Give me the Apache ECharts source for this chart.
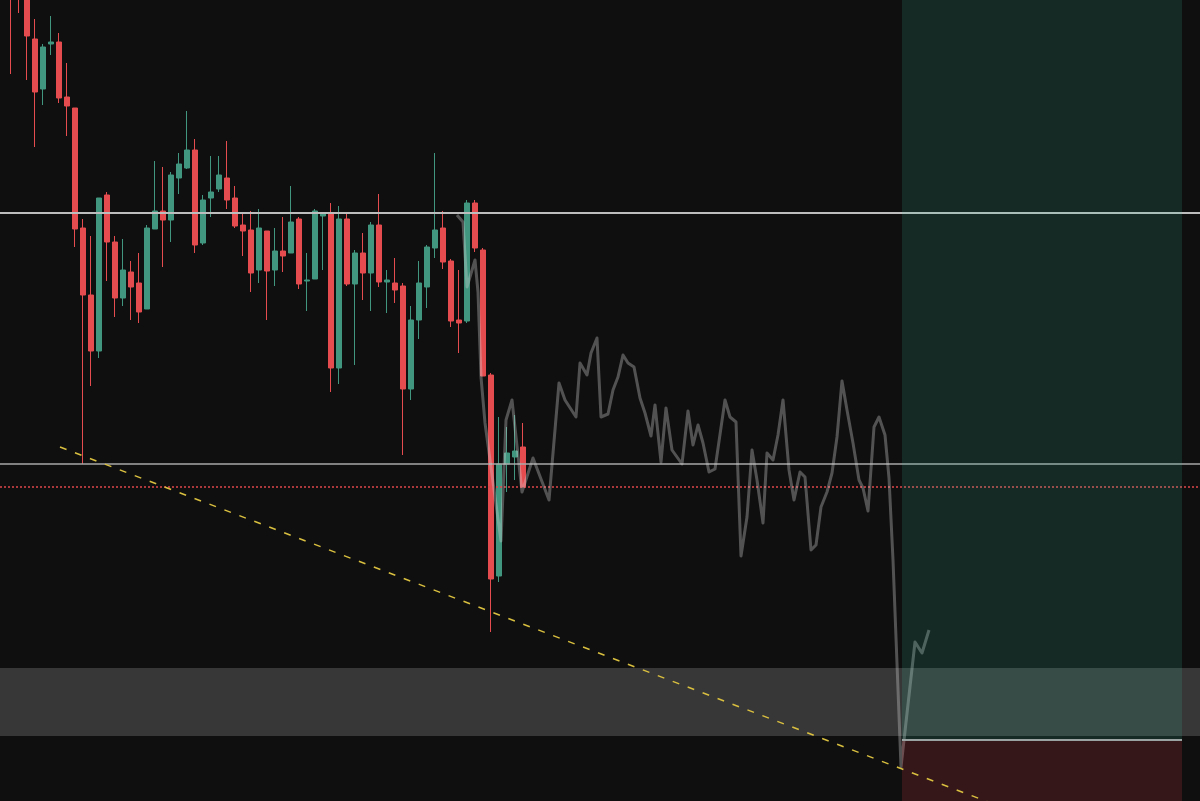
<!DOCTYPE html>
<html><head><meta charset="utf-8">
<script src="https://cdn.jsdelivr.net/npm/echarts@6/dist/echarts.min.js"></script>
<style>html,body{margin:0;padding:0;background:#0f0f0f;overflow:hidden}#c{width:1200px;height:801px}</style>
</head><body><div id="c"></div>
<script>
// Candles (bar 1..65): open, close, low, high
const opens  = [840,860,815,761,711,756,758,703,692,572,505,449,605,558,502,528,517,491,571,589,580,622,632,650,557,602,611,622,602,575,570,530,569,530,549,547,581,519,521,584,586,432,581,516,547,527,575,518,517,514,411,480,513,552,572,539,480,479,597,550,425,224,336,343,353];
const closes = [805,820,764,708,753,758,702,694,571,505,449,602,558,502,530,513,488,572,589,580,625,636,650,555,600,608,625,600,574,569,527,572,529,549,544,578,516,520,589,586,432,581,516,547,527,575,518,520,510,411,480,517,553,570,538,479,477,597,552,424,221,336,347,349,313];
const lows   = [726,787,720,653,695,745,697,664,553,336,414,442,519,483,494,480,477,491,571,533,558,606,631,547,555,583,608,591,572,544,508,517,480,514,528,547,511,489,521,530,408,416,514,435,500,489,513,487,497,345,400,461,492,542,531,473,447,477,548,424,168,218,308,320,313];
const highs  = [850,870,825,781,756,784,767,737,692,581,564,602,608,564,561,539,547,575,639,633,628,647,689,661,605,644,644,659,614,586,589,591,569,572,583,614,583,547,591,586,597,594,586,550,567,578,606,530,542,517,494,539,555,647,589,541,530,600,600,552,427,383,373,385,377];

// Projected path (bar position, price)
const projX = [56.75,57.5,58,59,59.375,59.75,60.25,62.25,62.875,63.625,64.875,66.25,68.25,69.5,70.25,71.625,72.125,73,73.5,74.25,74.75,75.625,76.25,76.875,77.5,78.125,78.875,79.625,80.25,81,81.5,82.25,82.875,83.625,84.875,85.625,86.25,86.875,87.5,88.25,89,90.25,90.875,91.625,92.25,93,93.625,94.25,95,95.5,96.25,96.875,97.5,98.25,98.875,99.625,100.25,101,101.625,102.25,103,103.625,104.25,104.875,105.5,106.25,107,107.5,108.125,108.875,109.5,110.25,110.75,111.25,112.25,114,114.875,115.75];
const projY = [585,578,513,540,508,423,377,259,380,400,308,342,300,417,400,383,437,425,447,462,383,386,410,423,445,437,433,402,387,364,395,338,392,350,336,389,355,375,357,328,331,400,383,378,244,283,350,320,277,347,340,365,400,330,300,328,323,250,255,293,308,327,363,419,390,357,320,312,289,373,383,365,322,240,33,158,147,170];

// Levels
const resistanceLevel = 587;
const supportLevel = 336;
const triggerLevel = 313;
const bandLow = 64, bandHigh = 132;
const zoneStart = 112.375, zoneEnd = 147.375;
const zoneEntry = 60, zoneTarget = 800, zoneStop = -1;
const trendX = [7.125, 149.625];
const trendY = [353, -83];

const chart = echarts.init(document.getElementById('c'), null, {renderer: 'canvas'});
chart.setOption({
  backgroundColor: '#0f0f0f',
  animation: false,
  grid: {left: 0, right: 0, top: 0, bottom: 0},
  xAxis: {type: 'value', min: -0.375, max: 149.625, show: false, splitLine: {show: false}},
  yAxis: {type: 'value', min: -1, max: 800, show: false, splitLine: {show: false}},
  series: [
    {
      type: 'line', data: [], silent: true,
      markArea: {z: 1, silent: true, itemStyle: {color: 'rgba(255,255,255,0.17)'},
        data: [[{yAxis: bandLow}, {yAxis: bandHigh}]]}
    },
    {
      type: 'candlestick', z: 2, barWidth: 6, clip: true,
      data: opens.map((o, k) => [k + 1, o, closes[k], lows[k], highs[k]]),
      encode: {x: 0, y: [1, 2, 3, 4]},
      itemStyle: {color: '#40967e', color0: '#e54c50', borderColor: '#40967e', borderColor0: '#e54c50', borderWidth: 1}
    },
    {
      type: 'line', data: [], silent: true,
      markLine: {z: 3, silent: true, symbol: ['none', 'none'], label: {show: false},
        data: [
          {yAxis: resistanceLevel, lineStyle: {color: '#bdbdbd', width: 2, type: 'solid'}},
          {yAxis: supportLevel, lineStyle: {color: '#a8a8a8', width: 1.5, type: 'solid'}},
          {yAxis: triggerLevel, lineStyle: {color: '#e0484c', width: 1.5, type: [2, 2]}}
        ]}
    },
    {
      type: 'line', z: 4, showSymbol: false, silent: true, clip: true,
      data: projX.map((x, k) => [x, projY[k]]),
      lineStyle: {color: 'rgba(210,210,210,0.35)', width: 3, join: 'round'}
    },
    {
      type: 'line', data: [], silent: true,
      markArea: {z: 5, silent: true,
        data: [
          [{xAxis: zoneStart, yAxis: zoneEntry, itemStyle: {color: 'rgba(60,200,170,0.15)'}}, {xAxis: zoneEnd, yAxis: zoneTarget}],
          [{xAxis: zoneStart, yAxis: zoneStop, itemStyle: {color: 'rgba(230,60,70,0.18)'}}, {xAxis: zoneEnd, yAxis: zoneEntry}]
        ]},
      markLine: {z: 6, silent: true, symbol: ['none', 'none'], label: {show: false},
        data: [[{coord: [zoneStart, zoneEntry], lineStyle: {color: '#9aa3a1', width: 2, type: 'solid'}}, {coord: [zoneEnd, zoneEntry]}]]}
    },
    {
      type: 'line', z: 7, showSymbol: false, silent: true, clip: true,
      data: trendX.map((x, k) => [x, trendY[k]]),
      lineStyle: {color: '#d9bf3f', width: 1.5, type: [7, 9]}
    }
  ]
});
</script></body></html>
